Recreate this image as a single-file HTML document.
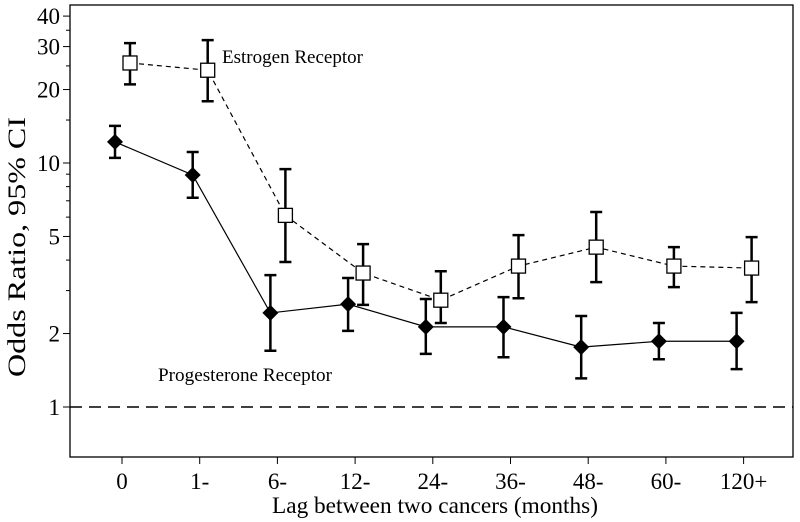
<!DOCTYPE html>
<html><head><meta charset="utf-8"><style>
html,body{margin:0;padding:0;background:#fff;}
svg{display:block;font-family:"Liberation Serif",serif;}
</style></head><body>
<svg id="chart" width="800" height="522" viewBox="0 0 800 522">
<rect x="70" y="5" width="723" height="452" fill="none" stroke="#000" stroke-width="1.3"/>
<g id="axes"></g>
<g id="marks"></g>
<text x="222" y="63" font-size="19" textLength="141" lengthAdjust="spacingAndGlyphs">Estrogen Receptor</text>
<text x="158" y="381" font-size="19" textLength="174" lengthAdjust="spacingAndGlyphs">Progesterone Receptor</text>
<text x="272" y="513" font-size="23" textLength="326" lengthAdjust="spacingAndGlyphs">Lag between two cancers (months)</text>
<text transform="translate(25,377) rotate(-90)" font-size="25" textLength="260" lengthAdjust="spacingAndGlyphs">Odds Ratio, 95% CI</text>
</svg>
<script>
const categories = ["0","1-","6-","12-","24-","36-","48-","60-","120+"];
const erValues = [25.7,24.0,6.1,3.54,2.74,3.78,4.52,3.78,3.71];
const erHigh = [31,31.9,9.44,4.65,3.6,5.06,6.3,4.52,4.97];
const erLow = [21,17.9,3.93,2.62,2.21,2.79,3.25,3.1,2.69];
const prValues = [12.2,8.93,2.43,2.64,2.13,2.13,1.76,1.86,1.86];
const prHigh = [14.2,11.1,3.47,3.38,2.77,2.82,2.36,2.21,2.43];
const prLow = [10.5,7.2,1.7,2.05,1.65,1.6,1.31,1.57,1.43];
const yTickValues = [1,2,5,10,20,30,40];
const yTickLabels = ["1","2","5","10","20","30","40"];
const yMinorTicks = [3,4,6,7,8,9,15,25,35];

const NS="http://www.w3.org/2000/svg";
function xScale(i){return 122+i*77.7;}
function yScale(v){return 407-244*Math.log10(v);}
function mk(tag,attrs,parent){const e=document.createElementNS(NS,tag);for(const k in attrs)e.setAttribute(k,attrs[k]);parent.appendChild(e);return e;}
const axes=document.getElementById('axes'), marks=document.getElementById('marks');

categories.forEach((c,i)=>{
  const x=xScale(i);
  const t=mk('line',{x1:x,x2:x,y1:457,y2:464,stroke:'#000','stroke-width':1},axes);
  
  
  const l=mk('text',{x:x,y:489,'font-size':23,'text-anchor':'middle'},axes);
  l.textContent=c;
  
  
});
yTickValues.forEach((v,i)=>{
  const y=yScale(v);
  const t=mk('line',{x1:63,x2:70,y1:y,y2:y,stroke:'#000','stroke-width':1},axes);
  
  
  const l=mk('text',{x:60,y:y+8,'font-size':23,'text-anchor':'end'},axes);
  l.textContent=yTickLabels[i];
  
  
});
yMinorTicks.forEach(v=>{
  const y=yScale(v);
  const t=mk('line',{x1:66,x2:70,y1:y,y2:y,stroke:'#000','stroke-width':1},axes);
  
  
});
const ref=mk('line',{x1:70,x2:793,y1:yScale(1),y2:yScale(1),stroke:'#000','stroke-width':1.5,'stroke-dasharray':'12,7'},marks);



function series(vals,hi,lo,off,dash,kind){
  const pts=vals.map((v,i)=>[xScale(i)+off,yScale(v)]);
  const pl=mk('polyline',{points:pts.map(p=>p.join(',')).join(' '),fill:'none',stroke:'#000','stroke-width':1.2,'stroke-dasharray':dash},marks);
  
  
  vals.forEach((v,i)=>{
    const x=xScale(i)+off, yh=yScale(hi[i]), yl=yScale(lo[i]);
    const g=mk('path',{d:`M${x},${yh}V${yl}M${x-6},${yh}H${x+6}M${x-6},${yl}H${x+6}`,stroke:'#000','stroke-width':2.5,fill:'none'},marks);
    
    
    const y=yScale(v);
    let m;
    if(kind==='er'){
      m=mk('rect',{x:x-7,y:y-7,width:14,height:14,fill:'#fff',stroke:'#000','stroke-width':1.3},marks);
      
    } else {
      m=mk('path',{d:`M${x},${y-8}L${x+8},${y}L${x},${y+8}L${x-8},${y}Z`,fill:'#000'},marks);
      
    }
    
  });
}
series(erValues,erHigh,erLow,8,'5,4','er');
series(prValues,prHigh,prLow,-7,'none','pr');
</script>
</body></html>
